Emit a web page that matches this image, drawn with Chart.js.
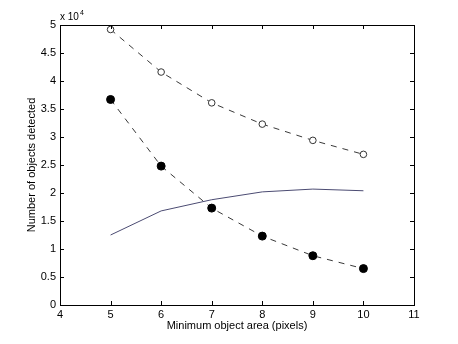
<!DOCTYPE html>
<html><head><meta charset="utf-8">
<script src="https://cdn.jsdelivr.net/npm/chart.js@4"></script>
<style>html,body{margin:0;padding:0;background:#fff}#wrap{width:458px;height:344px}</style>
</head><body><div id="wrap"><canvas id="c" width="458" height="344"></canvas></div>
<script>
const xValues = [5, 6, 7, 8, 9, 10];
const openCircles = [49200, 41600, 36100, 32300, 29400, 26900];
const filledCircles = [36700, 24800, 17300, 12300, 8800, 6500];
const solidLine = [12500, 16800, 18800, 20200, 20700, 20400];
const xTicks = [4, 5, 6, 7, 8, 9, 10, 11];
const yTicks = [0, 0.5, 1, 1.5, 2, 2.5, 3, 3.5, 4, 4.5, 5];
const xTitle = 'Minimum object area (pixels)';
const yTitle = 'Number of objects detected';

const pts = arr => xValues.map((x, i) => ({x: x, y: arr[i] / 1e4}));
const FONT = {family: 'Liberation Sans, Arial, Helvetica, sans-serif', size: 11};

const boxPlugin = {
  id: 'box',
  afterDraw(chart) {
    const {ctx, chartArea: a, scales: {x, y}} = chart;
    ctx.save();
    ctx.strokeStyle = '#000';
    ctx.lineWidth = 1;
    ctx.strokeRect(Math.round(a.left) + 0.5, Math.round(a.top) + 0.5, Math.round(a.right - a.left), Math.round(a.bottom - a.top));
    const L = 4;
    ctx.beginPath();
    xTicks.forEach(v => {
      const px = Math.round(x.getPixelForValue(v)) + 0.5;
      ctx.moveTo(px, a.bottom); ctx.lineTo(px, a.bottom - L);
      ctx.moveTo(px, a.top); ctx.lineTo(px, a.top + L);
    });
    yTicks.forEach(v => {
      const py = Math.round(y.getPixelForValue(v)) + 0.5;
      ctx.moveTo(a.left, py); ctx.lineTo(a.left + L, py);
      ctx.moveTo(a.right, py); ctx.lineTo(a.right - L, py);
    });
    ctx.stroke();
    ctx.fillStyle = '#000';
    ctx.font = '10px ' + FONT.family;
    ctx.textBaseline = 'alphabetic';
    ctx.textAlign = 'left';
    ctx.fillText('x 10', a.left, a.top - 5);
    const w = ctx.measureText('x 10').width;
    ctx.font = '7px ' + FONT.family;
    ctx.fillText('4', a.left + w + 1, a.top - 10);
    ctx.restore();
  }
};

new Chart(document.getElementById('c'), {
  type: 'scatter',
  data: {
    datasets: [
      {data: pts(solidLine), showLine: true, borderColor: '#4b4b72', borderWidth: 1, pointRadius: 0, borderDash: []},
      {data: pts(openCircles), showLine: true, borderColor: '#222', borderWidth: 0.9, borderDash: [6, 6],
       pointRadius: 3.3, pointBackgroundColor: '#fff', pointBorderColor: '#333', pointBorderWidth: 1},
      {data: pts(filledCircles), showLine: true, borderColor: '#222', borderWidth: 0.9, borderDash: [6, 6],
       pointRadius: 4, pointBackgroundColor: '#000', pointBorderColor: '#000', pointBorderWidth: 1}
    ]
  },
  options: {
    responsive: false,
    animation: false,
    devicePixelRatio: 1,
    layout: {padding: {left: 0, top: 25, right: 44, bottom: 0}},
    plugins: {legend: {display: false}, tooltip: {enabled: false}},
    scales: {
      x: {
        type: 'linear', min: 4, max: 11,
        afterBuildTicks: s => { s.ticks = xTicks.map(v => ({value: v})); },
        afterFit: s => { s.height = 39; },
        grid: {display: false, drawTicks: false},
        border: {display: false},
        ticks: {color: '#000', font: FONT, padding: 3, maxRotation: 0, callback: v => String(v)},
        title: {display: true, text: xTitle, color: '#000', font: FONT, padding: {top: 0, bottom: 11}}
      },
      y: {
        type: 'linear', min: 0, max: 5,
        afterBuildTicks: s => { s.ticks = yTicks.map(v => ({value: v})); },
        afterFit: s => { s.width = 60; },
        grid: {display: false, drawTicks: false},
        border: {display: false},
        ticks: {color: '#000', font: FONT, padding: 4, callback: v => String(v)},
        title: {display: true, text: yTitle, color: '#000', font: FONT, padding: {top: 25, bottom: 0}}
      }
    }
  },
  plugins: [boxPlugin]
});
</script></body></html>
